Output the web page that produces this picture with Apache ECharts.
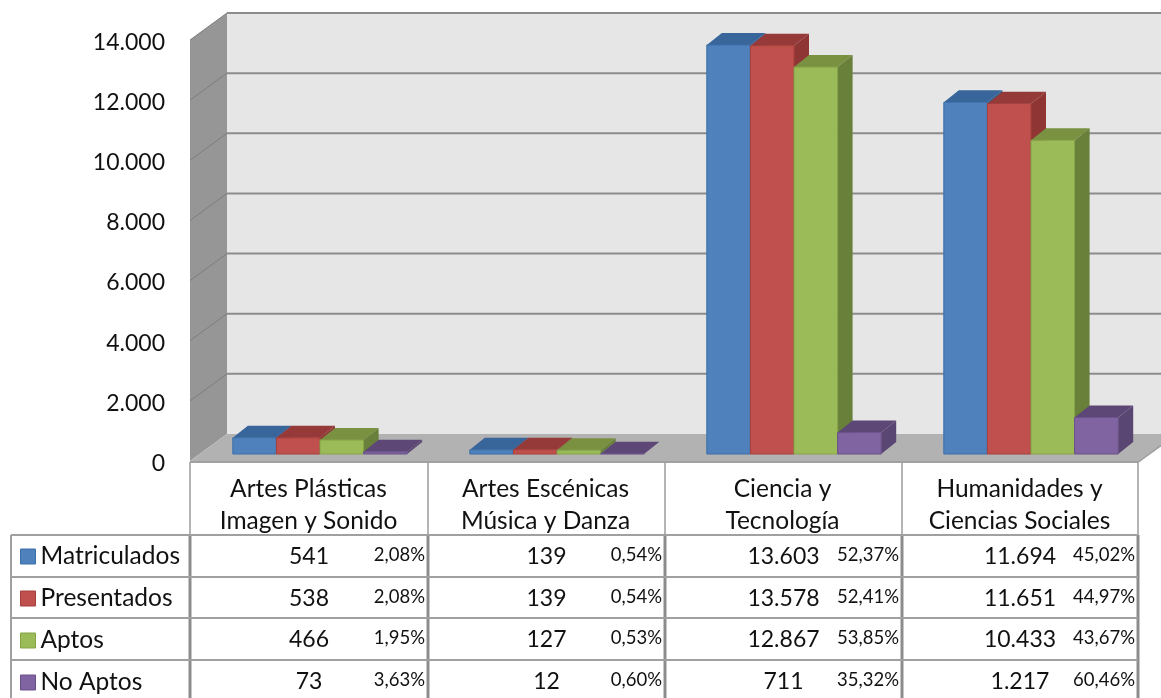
<!DOCTYPE html>
<html>
<head>
<meta charset="utf-8">
<style>
	html, body { margin: 0; padding: 0; background: #fff; }
	#main { width: 1161px; height: 698px; }
</style>
</head>
<body>
<div id="main"></div>
<script src="https://cdn.jsdelivr.net/npm/echarts@6/dist/echarts.min.js"></script>
<script>
var categories = ['Artes Plásticas\nImagen y Sonido', 'Artes Escénicas\nMúsica y Danza', 'Ciencia y\nTecnología', 'Humanidades y\nCiencias Sociales'];
var seriesNames = ['Matriculados', 'Presentados', 'Aptos', 'No Aptos'];
var matriculados = [541, 139, 13603, 11694];
var presentados = [538, 139, 13578, 11651];
var aptos = [466, 127, 12867, 10433];
var noAptos = [73, 12, 711, 1217];
var pctMatriculados = ['2,08%', '0,54%', '52,37%', '45,02%'];
var pctPresentados = ['2,08%', '0,54%', '52,41%', '44,97%'];
var pctAptos = ['1,95%', '0,53%', '53,85%', '43,67%'];
var pctNoAptos = ['3,63%', '0,60%', '35,32%', '60,46%'];
var yTicks = [0, 2000, 4000, 6000, 8000, 10000, 12000, 14000];

var font = 'Lato';
// cara frontal, arriba, lateral, borde
var colores = [
	['#4f81bd', '#38659a', '#2f5c8f', '#3d6ea8'],
	['#c0504d', '#953a39', '#8f3533', '#a53f3c'],
	['#9bbb59', '#7a9142', '#68803a', '#85a247'],
	['#8064a2', '#5c4777', '#5a4673', '#6a5089']
];

var gridLeft = 190, gridTop = 40, gridW = 948, gridH = 421;
// fondo de la caja 3D
var wallDx = 37, wallDy = -27;
// barras
var barW = 43.6, barDx = 15, barDy = -12, barOffX = 11.5, barOffY = -7;

function miles(v) {
	return String(v).replace(/\B(?=(\d{3})+$)/g, '.');
}

function poly(points, fill, stroke) {
	return {
		type: 'polygon',
		shape: { points: points },
		style: { fill: fill, stroke: stroke || null, lineWidth: stroke ? 1 : 0 }
	};
}

// paredes y suelo
function renderCaja(params, api) {
	var band = api.size([1, 0])[0];
	var x0 = api.coord([0, 0])[0] - band / 2;
	var x1 = x0 + band * 4;
	var y0 = api.coord([0, 0])[1];
	var y1 = api.coord([0, 14000])[1];
	return {
		type: 'group',
		children: [
			poly([[x0 + wallDx, y1 + wallDy], [x1 + wallDx, y1 + wallDy], [x1 + wallDx, y0 + wallDy], [x0 + wallDx, y0 + wallDy]], '#e6e6e6'),
			poly([[x0, y1], [x0 + wallDx, y1 + wallDy], [x0 + wallDx, y0 + wallDy], [x0, y0]], '#969696'),
			poly([[x0, y0], [x0 + wallDx, y0 + wallDy], [x1 + wallDx, y0 + wallDy], [x1, y0]], '#b2b2b2'),
			{ type: 'line', shape: { x1: x0, y1: y0 + 1, x2: x1, y2: y0 + 1 }, style: { stroke: '#a0a0a0', lineWidth: 2 } },
			{ type: 'line', shape: { x1: x1, y1: y0 + 1, x2: x1 + wallDx, y2: y0 + wallDy + 1 }, style: { stroke: '#a0a0a0', lineWidth: 2 } }
		]
	};
}

// lineas de division en el fondo y la pared izquierda
function renderLinea(params, api) {
	var band = api.size([1, 0])[0];
	var p = api.coord([0, api.value(1)]);
	var x0 = p[0] - band / 2;
	return {
		type: 'group',
		children: [
			{ type: 'line', shape: { x1: x0, y1: p[1], x2: x0 + wallDx, y2: p[1] + wallDy }, style: { stroke: '#7d7d7d', lineWidth: 1 } },
			{ type: 'line', shape: { x1: x0 + wallDx, y1: p[1] + wallDy, x2: x0 + wallDx + band * 4, y2: p[1] + wallDy }, style: { stroke: '#8c8c8c', lineWidth: 2 } }
		]
	};
}

function renderBarra(idx) {
	return function(params, api) {
		var c = colores[idx];
		var base = api.coord([api.value(0), 0]);
		var top = api.coord([api.value(0), api.value(1)]);
		var x = base[0] - barW * 2 + barOffX + idx * barW;
		var y0 = base[1] + barOffY;
		var y1 = top[1] + barOffY;
		var r = x + barW;
		return {
			type: 'group',
			children: [
				poly([[x, y1], [x + barDx, y1 + barDy], [r + barDx, y1 + barDy], [r, y1]], c[1]),
				poly([[r, y1], [r + barDx, y1 + barDy], [r + barDx, y0 + barDy], [r, y0]], c[2]),
				poly([[x, y1], [r, y1], [r, y0], [x, y0]], c[0], c[3])
			]
		};
	};
}

var valores = [matriculados, presentados, aptos, noAptos];
var pcts = [pctMatriculados, pctPresentados, pctAptos, pctNoAptos];

// tabla de datos
var colX = [gridLeft, 428, 665, 902, 1138];
var rowY = [535, 577, 618, 660];
var rowH = 41.5;
var tabla = [];

function linea(x1, y1, x2, y2, color, w) {
	tabla.push({
		type: 'line',
		shape: { x1: x1, y1: y1, x2: x2, y2: y2 },
		style: { stroke: color, lineWidth: w }
	});
}

colX.forEach(function(x) {
	linea(x, 462, x, 535, '#b4b4b4', 2);
	linea(x, 535, x, 698, '#8c8c8c', 3);
});
linea(11, 535, 11, 698, '#a0a0a0', 2);
rowY.forEach(function(y) {
	linea(11, y, 1138, y, '#a0a0a0', 2);
});

valores.forEach(function(fila, r) {
	fila.forEach(function(v, c) {
		var cx = (colX[c] + colX[c + 1]) / 2;
		var cy = rowY[r] + rowH / 2;
		tabla.push({
			type: 'text',
			x: cx,
			y: cy + 1,
			style: { text: miles(v), font: '23px ' + font, fill: '#111', align: 'center', verticalAlign: 'middle' }
		});
		tabla.push({
			type: 'text',
			x: colX[c + 1] - 3,
			y: cy - 1,
			style: { text: pcts[r][c], font: '18.5px ' + font, fill: '#111', align: 'right', verticalAlign: 'middle' }
		});
	});
});

var series = [{
	name: 'Caja',
	type: 'custom',
	renderItem: renderCaja,
	data: [[0, 0]],
	clip: false,
	silent: true
}, {
	name: 'Lineas',
	type: 'custom',
	renderItem: renderLinea,
	data: yTicks.slice(1).map(function(t) { return [0, t]; }),
	clip: false,
	silent: true
}];

seriesNames.forEach(function(name, i) {
	series.push({
		name: name,
		type: 'custom',
		renderItem: renderBarra(i),
		itemStyle: { color: colores[i][0] },
		data: valores[i].map(function(v, k) { return [k, v]; }),
		clip: false
	});
});

var chart = echarts.init(document.getElementById('main'));
chart.setOption({
	animation: false,
	backgroundColor: '#fff',
	textStyle: { fontFamily: font },
	legend: {
		orient: 'vertical',
		left: 20,
		top: 544,
		padding: 0,
		icon: 'rect',
		itemWidth: 15,
		itemHeight: 15,
		itemGap: 17,
		textStyle: { fontFamily: font, fontSize: 24.5, color: '#111' },
		selectedMode: false,
		data: seriesNames.map(function(n, i) {
			return { name: n, itemStyle: { color: colores[i][0], borderColor: colores[i][3], borderWidth: 1 } };
		})
	},
	grid: { left: gridLeft, top: gridTop, width: gridW, height: gridH },
	xAxis: {
		type: 'category',
		data: categories,
		axisLine: { show: false },
		axisTick: { show: false },
		axisLabel: { fontFamily: font, fontSize: 24.5, color: '#111', lineHeight: 32, margin: 12 }
	},
	yAxis: {
		type: 'value',
		min: 0,
		max: 14000,
		interval: 2000,
		axisLine: { show: false },
		axisTick: { show: false },
		splitLine: { show: false },
		axisLabel: {
			margin: 25,
			formatter: function(v) { return '{t|' + miles(v) + '}'; },
			rich: {
				t: { fontFamily: font, fontSize: 23, color: '#111', padding: [5, 0, 0, 0] }
			}
		}
	},
	graphic: tabla,
	series: series
});
</script>
</body>
</html>
